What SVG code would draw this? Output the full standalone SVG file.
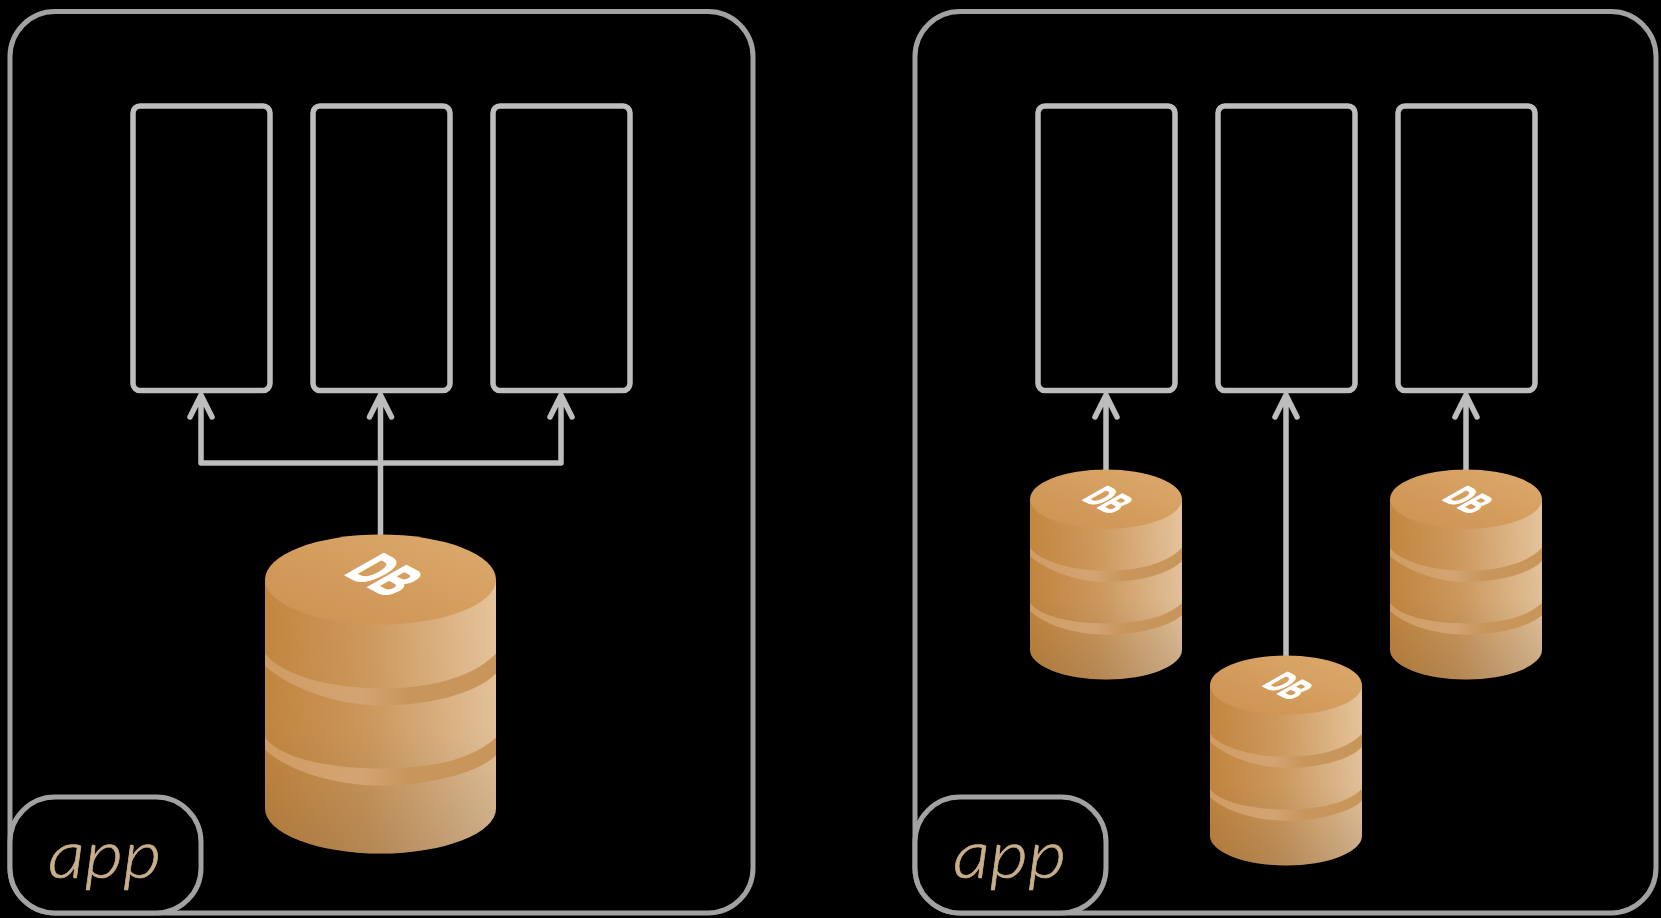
<svg xmlns="http://www.w3.org/2000/svg" width="1661" height="918" viewBox="0 0 1661 918">
<style>
.frame{fill:none;stroke:#a2a2a2;stroke-width:5}
.tag{fill:#000;stroke:#a2a2a2;stroke-width:5}
.box{fill:none;stroke:#bdbdbd;stroke-width:5.500}
.conn{fill:none;stroke:#bdbdbd;stroke-width:5.500;stroke-linejoin:round;stroke-linecap:round}
.app{font-family:Lato,"Open Sans",sans-serif;font-style:italic;font-weight:300;font-size:68px;fill:#c9ae8c;stroke:#c9ae8c;stroke-width:.7}
.db{font-family:"Liberation Sans",Arial,sans-serif;font-weight:700;fill:#fff;stroke:#fff}
</style>
<defs>
<linearGradient id="side" x1="0" x2="1" y1="0" y2="0"><stop offset="0" stop-color="#c4873f"/><stop offset=".45" stop-color="#cf9a5e"/><stop offset="1" stop-color="#e6c49c"/></linearGradient>
<linearGradient id="shade" x1="0" x2="0" y1="0" y2="1"><stop offset="0" stop-color="#4a3a28" stop-opacity="0"/><stop offset=".55" stop-color="#4a3a28" stop-opacity=".03"/><stop offset="1" stop-color="#4a3a28" stop-opacity=".2"/></linearGradient>
<linearGradient id="top" x1="0" x2="1" y1="1" y2="0"><stop offset="0" stop-color="#cc914f"/><stop offset="1" stop-color="#dcaa6e"/></linearGradient>
<linearGradient id="band" x1="0" x2="1" y1="0" y2="0"><stop offset="0" stop-color="#d09c63"/><stop offset=".42" stop-color="#d3a473"/><stop offset=".62" stop-color="#c8955b"/><stop offset="1" stop-color="#c8955b"/></linearGradient>
<g id="cyl">
<path d="M-115.500 46V274A115.500 45 0 0 0 115.500 274V46Z" fill="url(#side)"/>
<path d="M-115.500 46V274A115.500 45 0 0 0 115.500 274V46Z" fill="url(#shade)"/>
<path d="M-115.500 119V131C-90 155-40 171 0 171C45 171 95 160 115.500 139V119C90 145 45 154 0 154C-50 154-100 140-115.500 119Z" fill="url(#band)"/>
<path d="M-115.500 203V215C-90 239-40 251 0 251C45 251 95 240 115.500 221V203C90 227 45 234 0 234C-50 234-100 224-115.500 203Z" fill="url(#band)"/>
<ellipse cx="0" cy="45" rx="115.500" ry="45" fill="url(#top)"/>
</g>
</defs>
<rect width="1661" height="918" fill="#000"/>
<g id="connectors">
<path class="conn" d="M380.500 535V395M201 463H561M201 463V395M561 463V395M190 417L201 395L212 417M369.500 417L380.500 395L391.500 417M550 417L561 395L572 417"/>
<path class="conn" d="M1106 470V395M1095 417L1106 395L1117 417"/>
<path class="conn" d="M1286 656V395M1275 417L1286 395L1297 417"/>
<path class="conn" d="M1466 470V395M1455 417L1466 395L1477 417"/>
</g>
<g id="app-left">
<rect class="frame" x="10" y="11.500" width="743" height="901.500" rx="45"/>
<rect class="box" x="133" y="106" width="137" height="284.500" rx="7"/>
<rect class="box" x="313" y="106" width="137" height="284.500" rx="7"/>
<rect class="box" x="493" y="106" width="137" height="284.500" rx="7"/>
<rect class="tag" x="10" y="797" width="191" height="116" rx="45"/>
<text class="app" x="48" y="878" textLength="113" lengthAdjust="spacingAndGlyphs">app</text>
</g>
<g id="app-right">
<rect class="frame" x="915" y="11.500" width="741" height="901.500" rx="45"/>
<rect class="box" x="1038" y="106" width="137" height="284.500" rx="7"/>
<rect class="box" x="1218" y="106" width="137" height="284.500" rx="7"/>
<rect class="box" x="1398" y="106" width="137" height="284.500" rx="7"/>
<rect class="tag" x="915" y="797" width="191" height="116" rx="45"/>
<text class="app" x="953" y="878" textLength="113" lengthAdjust="spacingAndGlyphs">app</text>
</g>
<g id="db-large">
<use href="#cyl" transform="translate(380.500 534.500)"/>
<text class="db" font-size="46" stroke-width="1.500" text-anchor="middle" transform="matrix(.68 .36 -1.2 .68 366 586)">DB</text>
</g>
<g id="db-right-1">
<use href="#cyl" transform="translate(1106 469.500) scale(.658)"/>
<text class="db" font-size="30" stroke-width="1" text-anchor="middle" transform="matrix(.68 .36 -1.2 .68 1096 507)">DB</text>
</g>
<g id="db-right-2">
<use href="#cyl" transform="translate(1286 655.500) scale(.658)"/>
<text class="db" font-size="30" stroke-width="1" text-anchor="middle" transform="matrix(.68 .36 -1.2 .68 1276 693)">DB</text>
</g>
<g id="db-right-3">
<use href="#cyl" transform="translate(1466 469.500) scale(.658)"/>
<text class="db" font-size="30" stroke-width="1" text-anchor="middle" transform="matrix(.68 .36 -1.2 .68 1456 507)">DB</text>
</g>
</svg>
